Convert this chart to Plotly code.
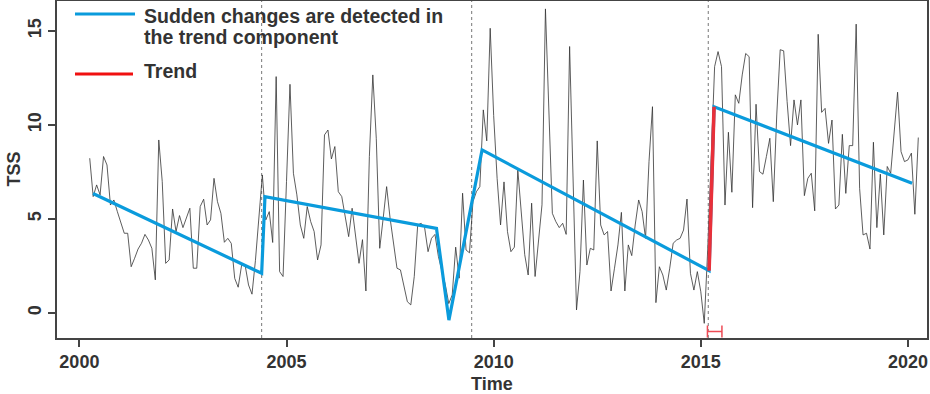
import plotly.graph_objects as go

# ---------------- data ----------------
start_year = 2000.25          # first observation (monthly series)
tss = [
    8.23, 6.19, 6.81, 6.28, 8.32, 7.87, 5.74, 6.01, 5.39, 4.86,
    4.24, 4.24, 2.46, 2.91, 3.40, 3.71, 4.18, 3.88, 3.44, 1.76,
    9.20, 7.00, 2.64, 2.82, 5.53, 4.33, 5.18, 4.54, 5.04, 5.57,
    2.38, 2.38, 5.66, 6.05, 4.68, 4.95, 7.16, 5.92, 5.30, 3.76,
    3.97, 3.70, 1.84, 1.37, 2.55, 2.55, 1.49, 1.00, 2.80, 5.00,
    7.34, 4.95, 5.39, 3.75, 12.57, 2.20, 1.94, 7.00, 12.16, 7.43,
    6.28, 4.68, 3.97, 5.66, 4.86, 4.33, 2.82, 3.62, 9.47, 9.73,
    8.19, 8.85, 6.45, 6.19, 5.04, 4.06, 5.57, 4.15, 2.64, 3.90,
    1.17, 8.32, 12.66, 9.29, 3.44, 5.04, 6.72, 5.04, 3.60, 2.38,
    2.29, 1.40, 0.60, 0.43, 1.94, 4.68, 4.77, 4.54, 3.26, 3.97,
    4.18, 3.00, 2.20, 1.50, 0.50, 0.96, 3.50, 1.85, 6.37, 3.35,
    3.20, 5.92, 6.45, 6.72, 10.80, 9.15, 15.14, 10.50, 7.16, 4.68,
    6.97, 4.33, 3.26, 3.50, 7.60, 5.39, 3.10, 2.02, 5.84, 1.94,
    3.97, 5.75, 16.17, 11.06, 5.30, 4.86, 4.54, 4.77, 4.18, 14.17,
    7.52, 0.16, 2.20, 7.07, 2.55, 3.44, 3.35, 9.15, 4.68, 4.15,
    4.33, 1.17, 2.38, 3.62, 5.35, 1.17, 3.62, 3.05, 4.68, 6.01,
    5.39, 3.97, 8.05, 10.97, 0.55, 2.46, 2.02, 1.22, 2.38, 3.71,
    3.88, 3.97, 4.41, 6.06, 2.11, 1.22, 2.20, 1.13, -0.55, 3.35,
    8.20, 13.10, 13.90, 13.10, 5.74, 9.61, 6.42, 11.60, 11.15, 12.66,
    13.80, 13.63, 5.60, 11.10, 7.52, 7.38, 8.32, 9.29, 5.92, 10.53,
    14.00, 13.94, 11.24, 8.90, 11.33, 10.00, 11.33, 6.24, 7.16, 7.43,
    5.43, 14.82, 10.67, 10.88, 9.02, 10.26, 5.53, 5.74, 9.50, 6.36,
    8.90, 8.90, 15.36, 6.63, 4.15, 4.24, 3.40, 9.08, 4.54, 7.38,
    4.15, 7.79, 7.43, 9.60, 11.74, 8.58, 8.05, 8.14, 8.50, 5.25,
    9.33,
]
time = [start_year + i / 12 for i in range(len(tss))]

# fitted piecewise trend (blue)
trend_t = [2000.33, 2004.40, 2004.48, 2008.62, 2008.92, 2009.72, 2015.20, 2015.32, 2020.10]
trend_v = [6.35, 2.11, 6.19, 4.50, -0.38, 8.67, 2.25, 10.97, 6.90]

# largest break (red) and its confidence interval
break_t = [2015.20, 2015.32]
break_v = [2.25, 10.97]
ci_center = 2015.18
ci_low, ci_high = 2015.16, 2015.51
ci_y = -0.99

# detected breakpoints (dotted verticals)
breakpoints = [2004.40, 2009.47, 2015.18]

x_ticks = [2000, 2005, 2010, 2015, 2020]
y_ticks = [0, 5, 10, 15]

# ---------------- styling ----------------
BLUE = "#0a9bdc"
RED = "#e8303a"
TXT = "#333333"
FONT = "Liberation Sans, Arial, sans-serif"

# plot area in pixels (for legend placement)
L, R, T, B = 57, 927, 1, 338
W, H = 930, 394
def px(x):
    return (x - L) / (R - L)
def py(y):
    return (B - y) / (B - T)

fig = go.Figure()

fig.add_trace(go.Scatter(x=time, y=tss, mode="lines",
                         line=dict(color="#333333", width=0.8),
                         showlegend=False, hoverinfo="skip"))
fig.add_trace(go.Scatter(x=trend_t, y=trend_v, mode="lines",
                         line=dict(color=BLUE, width=3.2),
                         showlegend=False, hoverinfo="skip"))
fig.add_trace(go.Scatter(x=break_t, y=break_v, mode="lines",
                         line=dict(color=RED, width=3.6),
                         showlegend=False, hoverinfo="skip"))
fig.add_trace(go.Scatter(x=[ci_center], y=[ci_y], mode="markers",
                         marker=dict(size=1, color="rgba(0,0,0,0)"),
                         error_x=dict(type="data", symmetric=False,
                                      array=[ci_high - ci_center],
                                      arrayminus=[ci_center - ci_low],
                                      color="#ee4b55", thickness=1.5, width=6),
                         showlegend=False, hoverinfo="skip"))

shapes = []
for b in breakpoints:
    shapes.append(dict(type="line", xref="x", yref="paper", x0=b, x1=b, y0=0, y1=1,
                       line=dict(color="#777777", width=1, dash="dot"), layer="below"))
# legend lines
shapes.append(dict(type="line", xref="paper", yref="paper",
                   x0=px(75), x1=px(135), y0=py(14), y1=py(14),
                   line=dict(color=BLUE, width=3)))
shapes.append(dict(type="line", xref="paper", yref="paper",
                   x0=px(75), x1=px(133), y0=py(74), y1=py(74),
                   line=dict(color="#f01010", width=3)))

leg_font = dict(family=FONT, size=19.5, color=TXT, weight="bold")
annotations = [
    dict(text="Sudden changes are detected in", xref="paper", yref="paper",
         x=px(142), y=py(16), xanchor="left", yanchor="middle", showarrow=False, font=leg_font),
    dict(text="the trend component", xref="paper", yref="paper",
         x=px(142), y=py(37), xanchor="left", yanchor="middle", showarrow=False, font=leg_font),
    dict(text="Trend", xref="paper", yref="paper",
         x=px(142), y=py(71), xanchor="left", yanchor="middle", showarrow=False, font=leg_font),
    dict(text="Time", xref="paper", yref="paper", x=0.5, y=py(384),
         xanchor="center", yanchor="middle", showarrow=False,
         font=dict(family=FONT, size=18, color=TXT, weight="bold")),
    dict(text="TSS", xref="paper", yref="paper", x=px(13), y=0.5,
         xanchor="center", yanchor="middle", showarrow=False, textangle=-90,
         font=dict(family=FONT, size=18, color=TXT, weight="bold")),
]

axis_common = dict(showgrid=False, zeroline=False, showline=True, mirror=True,
                   linecolor="#444444", linewidth=1.5, ticks="outside", ticklen=7,
                   tickwidth=1.5, tickcolor="#444444", automargin=False,
                   tickfont=dict(family=FONT, size=18, color=TXT, weight="bold"))

fig.update_layout(
    width=W, height=H,
    margin=dict(l=L, r=W - R, t=T, b=H - B, autoexpand=False),
    plot_bgcolor="white", paper_bgcolor="white",
    xaxis=dict(range=[1999.46, 2020.46], tickvals=x_ticks,
               ticktext=[str(v) for v in x_ticks], **axis_common),
    yaxis=dict(range=[-1.33, 16.59], tickvals=y_ticks,
               ticktext=[str(v) for v in y_ticks], tickangle=-90, **axis_common),
    shapes=shapes, annotations=annotations, showlegend=False,
)

fig.write_html("out.html", config={"displayModeBar": False},
               post_script="document.body.style.margin='0';document.body.style.overflow='hidden';")
